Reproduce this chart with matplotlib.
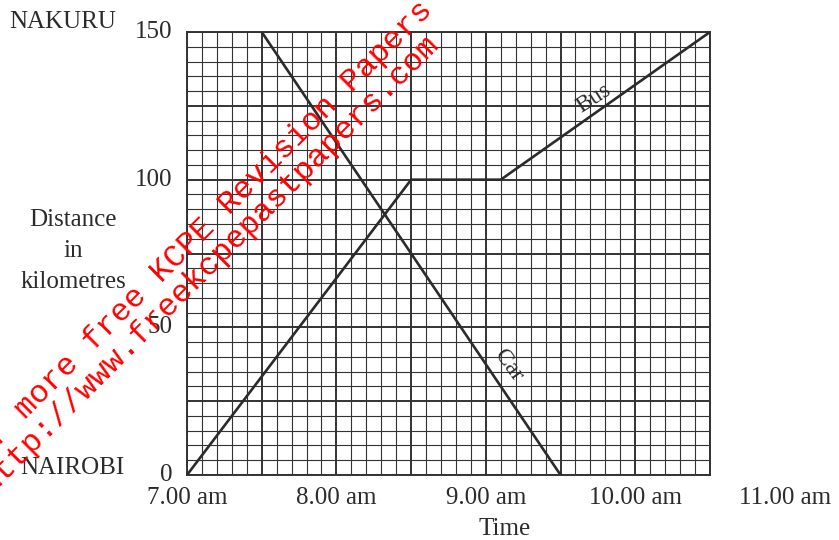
import numpy as np
import matplotlib
matplotlib.use('Agg')
import matplotlib.pyplot as plt

# Journey data (time in hours, distance from Nairobi in km)
bus_time = [7.0, 8.5, 9.1, 10.5]
bus_dist = [0, 100, 100, 150]
car_time = [7.5, 9.5]
car_dist = [150, 0]

time_ticks = [7, 8, 9, 10, 11]
time_labels = ['7.00 am', '8.00 am', '9.00 am', '10.00 am', '11.00 am']
dist_ticks = [0, 50, 100, 150]

ink = '#2b2b2b'
serif = 'Liberation Serif'

fig = plt.figure(figsize=(8.39, 5.40), dpi=100)
ax = fig.add_axes([0.2229, 0.1204, 0.8462 - 0.2229, 0.9407 - 0.1204])
ax.set_xlim(7, 10.5)
ax.set_ylim(0, 150)

# graph paper grid
for t in np.arange(7, 10.5001, 0.1):
    major = abs((t * 2) - round(t * 2)) < 1e-6
    ax.axvline(t, color='#333333', lw=1.4 if major else 0.8, zorder=1)
for d in np.arange(0, 150.001, 5):
    major = d % 25 == 0
    ax.axhline(d, color='#333333', lw=1.4 if major else 0.8, zorder=1)

ax.plot(bus_time, bus_dist, color=ink, lw=1.9, zorder=3)
ax.plot(car_time, car_dist, color=ink, lw=1.9, zorder=3)

ax.text(9.72, 127.5, 'Bus', rotation=33, ha='center', va='center', fontsize=17,
        family=serif, color=ink, zorder=4)
ax.text(9.15, 37, 'Car', rotation=-54, ha='center', va='center', fontsize=17,
        family=serif, color=ink, zorder=4)

ax.set_xticks([])
ax.set_yticks([])
for s in ax.spines.values():
    s.set_color('#333333')
    s.set_linewidth(1.4)

# axis labels as text
for t, lab in zip(time_ticks, time_labels):
    ax.text(t, -7.8, lab, ha='center', va='center', fontsize=18, family=serif,
            color=ink, clip_on=False)
for d in dist_ticks:
    ax.text(6.9, d, str(d), ha='right', va='center', fontsize=18, family=serif,
            color=ink, clip_on=False)
fig.text(9 / 839, 1 - 22 / 540, 'NAKURU', ha='left', va='center', fontsize=18,
         family=serif, color=ink)
fig.text(20 / 839, 1 - 468 / 540, 'NAIROBI', ha='left', va='center', fontsize=18,
         family=serif, color=ink)
fig.text(73 / 839, 1 - 251 / 540, 'Distance\nin\nkilometres', ha='center',
         va='center', fontsize=18, family=serif, color=ink, linespacing=1.5)
fig.text(505 / 839, 1 - 529 / 540, 'Time', ha='center', va='center', fontsize=18,
         family=serif, color=ink)

# red watermark
fig.text(-29 / 839, 1 - 474 / 540, 'For more free KCPE Revision Papers', rotation=45,
         rotation_mode='anchor', ha='left', va='baseline', fontsize=23,
         family='Liberation Mono', color='red', zorder=10)
fig.text(-10 / 839, 1 - 494 / 540, 'http://www.freekcpepastpapers.com', rotation=45,
         rotation_mode='anchor', ha='left', va='baseline', fontsize=23,
         family='Liberation Mono', color='red', zorder=10)

fig.savefig('out.png', dpi=100)
